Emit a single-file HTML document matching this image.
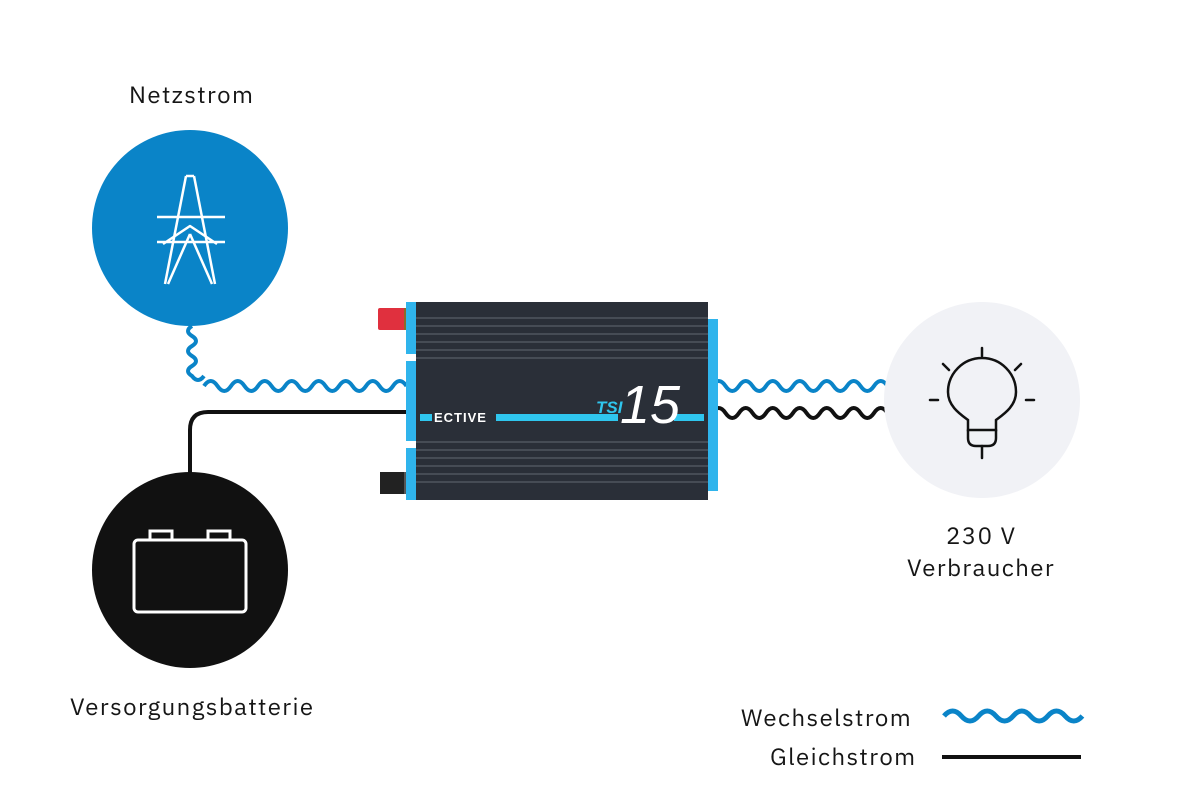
<!DOCTYPE html>
<html><head><meta charset="utf-8"><style>
body{margin:0;width:1199px;height:800px;background:#fff;overflow:hidden;font-family:"IBM Plex Sans","Liberation Sans",sans-serif;}
.t{position:absolute;font-size:24px;color:#161616;white-space:nowrap;letter-spacing:1.4px;}
</style></head><body>
<svg width="1199" height="800" style="position:absolute;left:0;top:0" xmlns="http://www.w3.org/2000/svg">
<path d="M192 326 q-8 5 0 10 q8 5 0 10 q-8 5 0 10 q8 5 0 10 q-8 5 0 10 q6 8 12 0" fill="none" stroke="#0a84c8" stroke-width="4"/>
<path d="M204 386 q6.7 -10 13.5 0 t13.5 0 t13.5 0 t13.5 0 t13.5 0 t13.5 0 t13.5 0 t13.5 0 t13.5 0 t13.5 0 t13.5 0 t13.5 0 t13.5 0 t13.5 0 t13.5 0" fill="none" stroke="#0a84c8" stroke-width="4"/>
<path d="M190 475 V430 q0 -18 18 -18 H410" fill="none" stroke="#111" stroke-width="4"/>
<path d="M712 386 q6.7 -10 13.5 0 t13.5 0 t13.5 0 t13.5 0 t13.5 0 t13.5 0 t13.5 0 t13.5 0 t13.5 0 t13.5 0 t13.5 0 t13.5 0 t13.5 0" fill="none" stroke="#0a84c8" stroke-width="4"/>
<path d="M712 413 q6.7 -10 13.5 0 t13.5 0 t13.5 0 t13.5 0 t13.5 0 t13.5 0 t13.5 0 t13.5 0 t13.5 0 t13.5 0 t13.5 0 t13.5 0 t13.5 0" fill="none" stroke="#111" stroke-width="4"/>
<circle cx="190" cy="228" r="98" fill="#0a84c8"/>
<circle cx="190" cy="570" r="98" fill="#111"/>
<circle cx="982" cy="400" r="98" fill="#f1f2f6"/>
<g fill="none" stroke="#fff" stroke-width="2.5" stroke-linejoin="round">
<path d="M186 176 L165 284 M194 176 L215 284 M186 176 H194"/>
<path d="M157 217 H225 M157 242 H225 M163 244 L190 226 L217 244 M190 234 L168 284 M190 234 L212 284"/>
</g>
<g fill="none" stroke="#fff" stroke-width="3">
<rect x="134" y="540" width="112" height="72" rx="4"/>
<path d="M150 540 V531 H172 V540 M208 540 V531 H230 V540"/>
</g>
<g fill="none" stroke="#111" stroke-width="2.5" stroke-linecap="round">
<path d="M968 430 V420 C960 414 948 406 948 392 A34 34 0 0 1 1016 392 C1016 406 1004 414 996 420 V430 Z"/>
<path d="M968 430 V438 Q968 446 976 446 H988 Q996 446 996 438 V430"/>
<path d="M982 446 V458 M982 348 V356 M943 364 L949 370 M1021 364 L1015 370 M930 400 H938 M1026 400 H1034"/>
</g>
<rect x="378" y="308" width="30" height="22" fill="#e0303e" rx="2"/>
<rect x="404" y="308" width="14" height="22" fill="#8a6a2a"/>
<rect x="380" y="472" width="26" height="22" fill="#222"/>
<rect x="404" y="472" width="14" height="22" fill="#555"/>
<rect x="406" y="302" width="12" height="52" fill="#2fb4ec"/>
<rect x="406" y="361" width="12" height="80" fill="#2fb4ec"/>
<rect x="406" y="448" width="12" height="52" fill="#2fb4ec"/>
<rect x="706" y="319" width="12" height="172" fill="#2fb4ec"/>
<rect x="416" y="302" width="292" height="198" fill="#2a2f38"/>
<g stroke="#50565f" stroke-width="1.5">
<line x1="416" y1="318" x2="708" y2="318"/><line x1="416" y1="326" x2="708" y2="326"/><line x1="416" y1="334" x2="708" y2="334"/><line x1="416" y1="342" x2="708" y2="342"/><line x1="416" y1="350" x2="708" y2="350"/><line x1="416" y1="358" x2="708" y2="358"/>
<line x1="416" y1="442" x2="708" y2="442"/><line x1="416" y1="450" x2="708" y2="450"/><line x1="416" y1="458" x2="708" y2="458"/><line x1="416" y1="466" x2="708" y2="466"/><line x1="416" y1="474" x2="708" y2="474"/><line x1="416" y1="482" x2="708" y2="482"/>
</g>
<rect x="420" y="414" width="284" height="7" fill="#2fc6ee"/>
<rect x="432" y="410" width="64" height="14" fill="#2a2f38"/>
<text x="434" y="422" font-size="13" font-weight="bold" fill="#fff" font-family="Liberation Sans" letter-spacing="1">ECTIVE</text>
<rect x="618" y="404" width="56" height="20" fill="#2a2f38"/>
<text x="596" y="413" font-size="17" font-style="italic" font-weight="bold" fill="#2fc6ee" font-family="Liberation Sans">TSI</text>
<text x="620" y="423" font-size="54" font-style="italic" fill="#fff" font-family="Liberation Sans">15</text>
<path d="M944 716 q8.6 -10 17.3 0 t17.3 0 t17.3 0 t17.3 0 t17.3 0 t17.3 0 t17.3 0 t17.3 0" fill="none" stroke="#0a84c8" stroke-width="5"/>
<line x1="942" y1="757" x2="1081" y2="757" stroke="#111" stroke-width="4"/>
</svg>
<div class="t" style="left:129px;top:78px">Netzstrom</div>
<div class="t" style="left:70px;top:690px">Versorgungsbatterie</div>
<div class="t" style="left:946px;top:519px">230 V</div>
<div class="t" style="left:907px;top:551px">Verbraucher</div>
<div class="t" style="left:741px;top:701px">Wechselstrom</div>
<div class="t" style="left:770px;top:740px">Gleichstrom</div>
</body></html>
